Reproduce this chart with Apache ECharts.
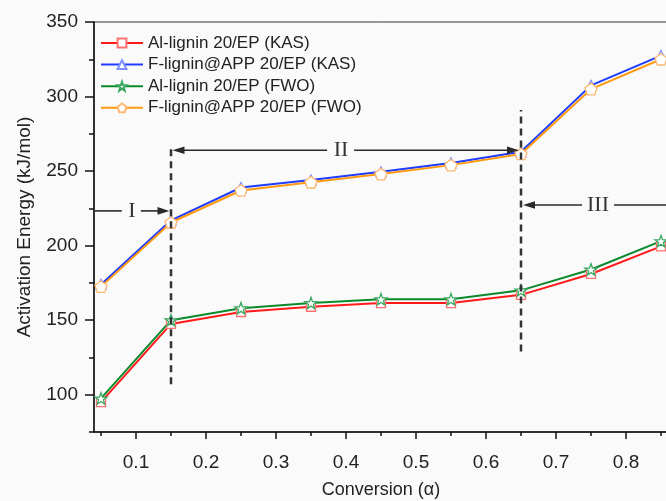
<!DOCTYPE html>
<html><head><meta charset="utf-8">
<script src="https://cdn.jsdelivr.net/npm/echarts@6/dist/echarts.min.js"></script>
<style>html,body{margin:0;padding:0;background:#fafafa}#c{width:666px;height:501px}</style>
</head><body><div id="c"></div><script>
// ---- data ----
const conversion = [0.05, 0.15, 0.25, 0.35, 0.45, 0.55, 0.65, 0.75, 0.85];
const alLigninKAS = [95, 147.5, 155.5, 159, 161.5, 161.5, 167, 181, 199.5];
const fLigninKAS  = [174, 217, 239, 244, 249.5, 255.5, 263, 307.5, 327.5];
const alLigninFWO = [97.5, 150, 158, 161.5, 164, 164, 170, 184, 203];
const fLigninFWO  = [172.5, 215.5, 237, 242.5, 248, 254, 261.5, 305, 325];
const seriesNames = ['Al-lignin 20/EP (KAS)', 'F-lignin@APP 20/EP (KAS)', 'Al-lignin 20/EP (FWO)', 'F-lignin@APP 20/EP (FWO)'];
const xTickLabels = [0.1, 0.2, 0.3, 0.4, 0.5, 0.6, 0.7, 0.8];
const xMinorTicks = [0.05, 0.15, 0.25, 0.35, 0.45, 0.55, 0.65, 0.75, 0.85];
const yTickLabels = [100, 150, 200, 250, 300, 350];
const yMinorTicks = [75, 125, 175, 225, 275, 325];
const regionLabels = ['I', 'II', 'III'];

// ---- annotation layout (data units) ----
const dividers = [{x: 0.15, y0: 107, y1: 266}, {x: 0.65, y0: 129, y1: 291}];

const starPath = 'path://M0,-10 L2.35,-3.24 L9.51,-3.09 L3.8,1.24 L5.88,8.09 L0,4 L-5.88,8.09 L-3.8,1.24 L-9.51,-3.09 L-2.35,-3.24 Z';
const pentPath = 'path://M0,-10 L9.51,-3.09 L5.88,8.09 L-5.88,8.09 L-9.51,-3.09 Z';

const FONT = '"Liberation Sans", Arial, sans-serif';
const chart = echarts.init(document.getElementById('c'), null, {renderer: 'canvas'});

function mk(name, vals, color, mColor, symbol, size) {
  return {
    name, type: 'line', data: conversion.map((c, i) => [c, vals[i]]),
    symbol, symbolSize: size, symbolKeepAspect: true, showAllSymbol: true,
    lineStyle: {color, width: 2},
    itemStyle: {color: '#ffffff', borderColor: mColor, borderWidth: 1.3},
    emphasis: {disabled: true}, animation: false
  };
}

const option = {
  backgroundColor: '#fafafa',
  animation: false,
  grid: {left: 94, top: 22, bottom: 69, width: 574, show: true, borderColor: '#333', borderWidth: 1,
    backgroundColor: 'transparent', outerBoundsMode: 'none', containLabel: false},
  legend: {
    orient: 'vertical', left: 100, top: 34.5, padding: 0,
    itemWidth: 42, itemHeight: 11, itemGap: 4.6,
    textStyle: {fontFamily: FONT, fontSize: 17, color: '#222', padding: [0, 0, 0, 0]},
    data: seriesNames
  },
  xAxis: [{
    type: 'value', min: 0.04, max: 0.86,
    name: 'Conversion (\u03b1)', nameLocation: 'middle', nameGap: 49,
    nameTextStyle: {fontFamily: FONT, fontSize: 18, color: '#222'},
    axisLine: {show: true, onZero: false, lineStyle: {color: '#111', width: 1.5}},
    axisTick: {show: true, inside: false, length: 7, customValues: xTickLabels, lineStyle: {color: '#111', width: 1.5}},
    axisLabel: {customValues: xTickLabels, margin: 21, fontFamily: FONT, fontSize: 19, color: '#222', formatter: v => v.toFixed(1)},
    splitLine: {show: false}
  }, {
    type: 'value', min: 0.04, max: 0.86, position: 'bottom',
    axisLine: {show: false}, axisLabel: {show: false}, splitLine: {show: false},
    axisTick: {show: true, inside: false, length: 4, customValues: xMinorTicks, lineStyle: {color: '#111', width: 1.5}}
  }],
  yAxis: [{
    type: 'value', min: 75, max: 350,
    name: 'Activation Energy (kJ/mol)', nameLocation: 'middle', nameGap: 60,
    nameTextStyle: {fontFamily: FONT, fontSize: 19, color: '#222'},
    axisLine: {show: true, onZero: false, lineStyle: {color: '#111', width: 1.5}},
    axisTick: {show: true, inside: false, length: 9, customValues: yTickLabels, lineStyle: {color: '#111', width: 1.5}},
    axisLabel: {customValues: yTickLabels, margin: 16, fontFamily: FONT, fontSize: 19, color: '#222'},
    splitLine: {show: false}
  }, {
    type: 'value', min: 75, max: 350, position: 'left',
    axisLine: {show: false}, axisLabel: {show: false}, splitLine: {show: false},
    axisTick: {show: true, inside: false, length: 5, customValues: yMinorTicks, lineStyle: {color: '#111', width: 1.5}}
  }],
  series: [
    mk(seriesNames[0], alLigninKAS, '#ff1a1a', '#ff7070', 'rect', 9),
    mk(seriesNames[1], fLigninKAS, '#1f3cff', '#8090ff', 'triangle', 10),
    mk(seriesNames[2], alLigninFWO, '#0a8a2a', '#3aa860', starPath, 12),
    mk(seriesNames[3], fLigninFWO, '#ff9a10', '#ffb870', pentPath, 12)
  ]
};
chart.setOption(option);

// ---- annotations positioned through the axes ----
const P = (x, y) => chart.convertToPixel({gridIndex: 0}, [x, y]);
const g = [];
const stroke = '#2a2a2a';
dividers.forEach(d => {
  const a = P(d.x, d.y0), b = P(d.x, d.y1);
  g.push({type: 'line', z: 100, shape: {x1: a[0], y1: a[1], x2: b[0], y2: b[1]},
    style: {stroke: '#333', lineWidth: 2.5, lineDash: [7, 5]}});
});
function seg(x1, x2, y, headAtEnd) {
  const hl = 12, hw = 3.8;
  const dir = Math.sign(x2 - x1);
  g.push({type: 'line', z: 100, shape: {x1, y1: y, x2: headAtEnd ? x2 - dir * hl * 0.6 : x2, y2: y},
    style: {stroke, lineWidth: 1.6}});
  if (headAtEnd) {
    g.push({type: 'polygon', z: 100, shape: {points: [[x2, y], [x2 - dir * hl, y - hw], [x2 - dir * hl, y + hw]]},
      style: {fill: stroke}});
  }
}
function txt(s, x, y) {
  g.push({type: 'text', z: 100, x, y, style: {text: s, font: '22px "Liberation Serif", "DejaVu Serif", serif', fill: '#333', align: 'center', verticalAlign: 'middle'}});
}
// Region I
{
  const y = P(0.1, 223.3)[1];
  const xl = P(0.04, 0)[0], xd = P(0.15, 0)[0] - 1.5, xt = P(0.094, 0)[0];
  seg(xl, xt - 10, y, false); txt(regionLabels[0], xt, y); seg(xt + 9, xd, y, true);
}
// Region II
{
  const y = P(0.3, 264)[1];
  const xa = P(0.15, 0)[0] + 1.5, xb = P(0.65, 0)[0] - 2, xt = P(0.393, 0)[0];
  seg(xt - 14, xa, y, true); txt(regionLabels[1], xt, y); seg(xt + 13, xb, y, true);
}
// Region III
{
  const y = P(0.7, 227.3)[1];
  const xa = P(0.65, 0)[0] + 2, xr = P(0.86, 0)[0], xt = P(0.76, 0)[0];
  seg(xt - 16, xa, y, true); txt(regionLabels[2], xt, y); seg(xt + 16, xr, y, false);
}
chart.setOption({graphic: g});
</script></body></html>
